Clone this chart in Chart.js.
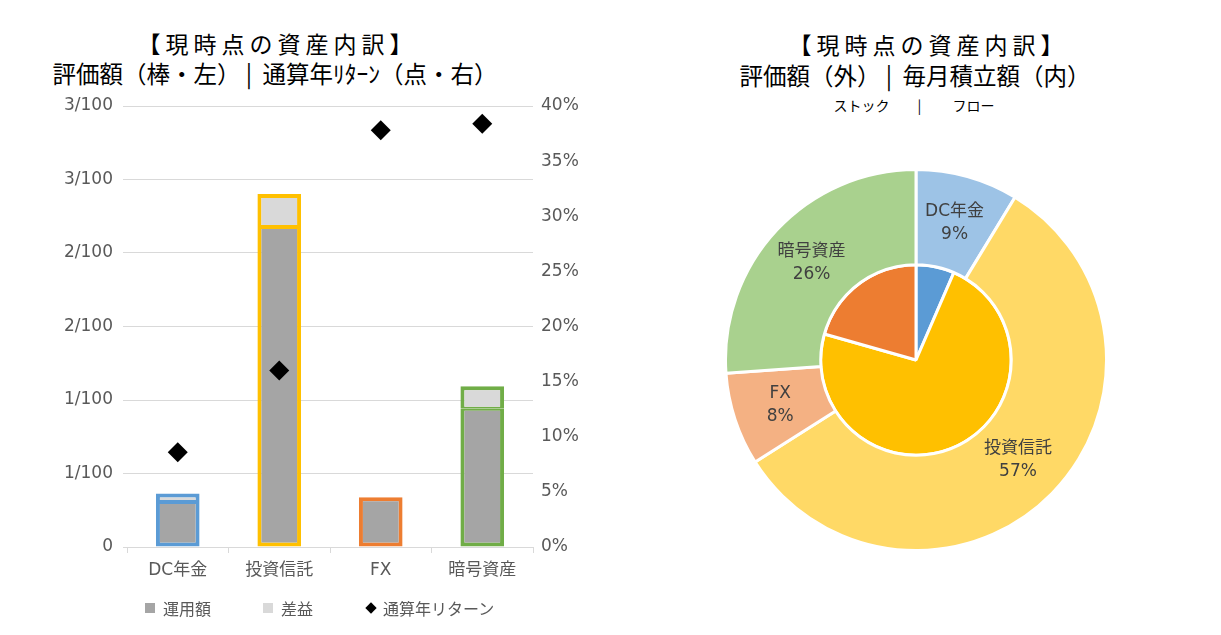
<!DOCTYPE html>
<html>
<head>
<meta charset="utf-8">
<script src="https://cdn.jsdelivr.net/npm/chart.js@4"></script>
<style>
  body { margin: 0; background: #fff; font-family: "Noto Sans CJK JP", sans-serif; }
  #wrap { position: relative; width: 1221px; height: 635px; overflow: hidden; }
  canvas { position: absolute; }
  .title { position: absolute; text-align: center; color: #000; font-size: 23px; line-height: 31px; white-space: pre; }
  .big { letter-spacing: 5px; padding-left: 5px; box-sizing: border-box; }
  .sub { position: absolute; text-align: center; color: #000; font-size: 14px; white-space: pre; }
  #legend { position: absolute; left: 145px; top: 596px; display: flex; align-items: center; font-size: 16px; color: #595959; }
  .item { display: flex; align-items: center; margin-right: 52px; }
  .sw { width: 10px; height: 10px; margin-right: 8px; }
  .dia { width: 8px; height: 8px; margin: 0 8px 0 2px; background: #000; transform: rotate(45deg); }
</style>
</head>
<body>
<div id="wrap">
  <div class="title big" style="left:0; top:28px; width:550px;">【現時点の資産内訳】</div>
  <div class="title" style="left:0; top:58px; width:550px; font-size:23.5px;">評価額（棒・左） |  通算年ﾘﾀｰﾝ（点・右）</div>
  <div class="title big" style="left:626px; top:29px; width:600px;">【現時点の資産内訳】</div>
  <div class="title" style="left:615px; top:60px; width:600px; font-size:23.5px;">評価額（外） |  毎月積立額（内）</div>
  <div class="sub" style="left:614px; top:95px; width:600px;">ストック　　|　　 フロー</div>
  <canvas id="barChart" style="left:0; top:0;" width="634" height="635"></canvas>
  <canvas id="pieChart" style="left:724px; top:168px;" width="384" height="384"></canvas>
  <div id="legend"></div>
</div>
<script>
// 資産の区分
const categories = ['DC年金', '投資信託', 'FX', '暗号資産'];
// 評価額の内訳（左軸）
const principal = [0.00306, 0.02177, 0.00338, 0.00941];
const gain = [0.00058, 0.00224, null, 0.00152];
// 通算年リターン（右軸, %）
const annualReturn = [8.6, 16.0, 37.8, 38.4];
// 左軸の目盛り（分数表示）
const leftTickLabels = ['0', '1/100', '1/100', '2/100', '2/100', '3/100', '3/100'];
// ドーナツ：外側=評価額(%)、内側=毎月積立額(%)
const stockShare = [8.7, 57.3, 7.9, 26.1];
const flowShare = [6.5, 72.9, 20.6, 0];

const assetColors = ['#5B9BD5', '#FFC000', '#ED7D31', '#70AD47'];
const assetLightColors = ['#9DC3E6', '#FFD966', '#F4B183', '#A9D18E'];

const fuente = '"DejaVu Sans", "Noto Sans CJK JP", sans-serif';
Chart.defaults.font.family = '"Noto Sans CJK JP", sans-serif';
Chart.defaults.color = '#595959';

function bordeDelUso(ctx) {
    const i = ctx.dataIndex;
    return { left: 4, right: 4, bottom: 4, top: gain[i] != null ? 2 : 4 };
}

const barChart = new Chart(document.getElementById('barChart'), {
    type: 'bar',
    data: {
        labels: categories,
        datasets: [{
            label: '運用額',
            data: principal,
            backgroundColor: '#A5A5A5',
            borderColor: assetColors,
            borderWidth: bordeDelUso,
            borderSkipped: false,
            stack: 's',
            yAxisID: 'y',
            order: 2
        }, {
            label: '差益',
            data: gain,
            backgroundColor: '#D9D9D9',
            borderColor: assetColors,
            borderWidth: { left: 4, right: 4, top: 4, bottom: 2 },
            borderSkipped: false,
            stack: 's',
            yAxisID: 'y',
            order: 2
        }, {
            type: 'line',
            label: '通算年リターン',
            data: annualReturn,
            showLine: false,
            pointStyle: 'rectRot',
            pointRadius: 10,
            pointBorderWidth: 0,
            pointBackgroundColor: '#000',
            yAxisID: 'y1',
            order: 1
        }]
    },
    options: {
        responsive: false,
        animation: false,
        events: [],
        layout: { padding: { top: 106, left: 0, right: 0, bottom: 0 } },
        datasets: { bar: { categoryPercentage: 1, barPercentage: 0.43 } },
        plugins: { legend: { display: false }, tooltip: { enabled: false } },
        scales: {
            x: {
                stacked: true,
                afterFit: s => { s.height = 88; },
                border: { color: '#D9D9D9', width: 1 },
                grid: { offset: true, drawOnChartArea: false, drawTicks: true, tickLength: 6, color: '#D9D9D9' },
                ticks: { padding: 7, font: { size: 17, family: fuente }, color: '#595959' }
            },
            y: {
                stacked: true,
                min: 0,
                max: 0.03,
                afterFit: s => { s.width = 127; },
                border: { display: false },
                grid: { color: '#D9D9D9', tickLength: 4 },
                ticks: {
                    stepSize: 0.005,
                    padding: 10,
                    font: { size: 17, family: fuente },
                    color: '#595959',
                    callback: (v, i) => leftTickLabels[i]
                }
            },
            y1: {
                position: 'right',
                min: 0,
                max: 40,
                afterFit: s => { s.width = 101; },
                border: { display: false },
                grid: { drawOnChartArea: false, drawTicks: false },
                ticks: {
                    stepSize: 5,
                    padding: 8,
                    font: { size: 17, family: fuente },
                    color: '#595959',
                    callback: v => v + '%'
                }
            }
        }
    }
});

// 凡例（下部）
const legendEl = document.getElementById('legend');
barChart.data.datasets.forEach(ds => {
    const item = document.createElement('div');
    item.className = 'item';
    const mark = document.createElement('span');
    if (ds.type === 'line') {
        mark.className = 'dia';
    } else {
        mark.className = 'sw';
        mark.style.background = ds.backgroundColor;
    }
    item.appendChild(mark);
    item.appendChild(document.createTextNode(ds.label));
    legendEl.appendChild(item);
});

const etiquetas = {
    id: 'etiquetas',
    afterDatasetsDraw(chart) {
        const ctx = chart.ctx;
        const meta = chart.getDatasetMeta(0);
        const datos = chart.data.datasets[0].data;
        const total = datos.reduce((a, b) => a + b, 0);
        ctx.save();
        ctx.font = '17px ' + fuente;
        ctx.fillStyle = '#404040';
        ctx.textAlign = 'center';
        ctx.textBaseline = 'middle';
        meta.data.forEach((arc, i) => {
            if (!datos[i]) return;
            const p = arc.getCenterPoint();
            ctx.fillText(chart.data.labels[i], p.x, p.y - 11);
            ctx.fillText(Math.round(datos[i] / total * 100) + '%', p.x, p.y + 12);
        });
        ctx.restore();
    }
};

new Chart(document.getElementById('pieChart'), {
    type: 'doughnut',
    data: {
        labels: categories,
        datasets: [{
            label: '評価額',
            data: stockShare,
            backgroundColor: assetLightColors,
            borderColor: '#fff',
            borderWidth: 3
        }, {
            label: '毎月積立額',
            data: flowShare,
            backgroundColor: assetColors,
            borderColor: '#fff',
            borderWidth: 3
        }]
    },
    options: {
        responsive: false,
        animation: false,
        events: [],
        cutout: 0,
        plugins: { legend: { display: false }, tooltip: { enabled: false } }
    },
    plugins: [etiquetas]
});
</script>
</body>
</html>
